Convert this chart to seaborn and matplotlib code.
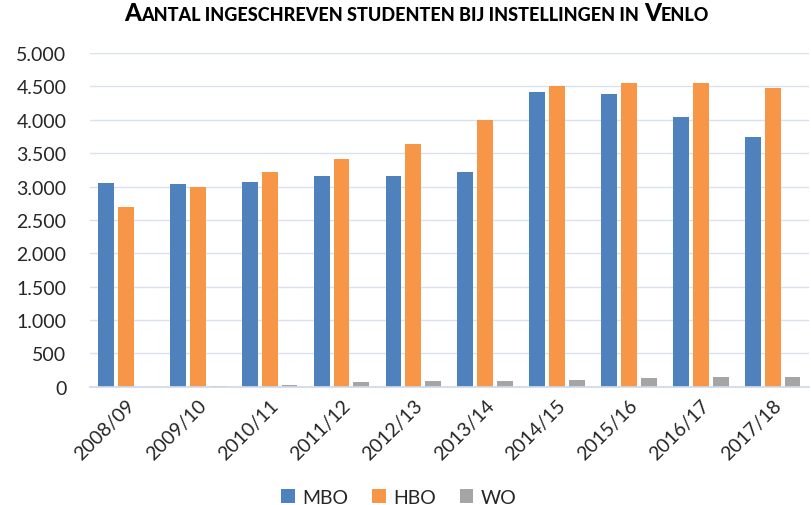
import matplotlib
matplotlib.use("Agg")
import matplotlib.pyplot as plt
from matplotlib.ticker import FuncFormatter, MultipleLocator
import pandas as pd
import seaborn as sns

years = ["2008/09", "2009/10", "2010/11", "2011/12", "2012/13",
         "2013/14", "2014/15", "2015/16", "2016/17", "2017/18"]
mbo = [3050, 3040, 3065, 3165, 3165, 3215, 4410, 4385, 4035, 3750]
hbo = [2690, 2995, 3225, 3415, 3635, 4000, 4505, 4545, 4555, 4480]
wo = [0, 15, 25, 65, 80, 80, 100, 125, 140, 150]
series = ["MBO", "HBO", "WO"]
colors = ["#4F81BD", "#F79646", "#A5A5A5"]

df = pd.DataFrame({"jaar": years * 3,
                   "type": [s for s in series for _ in years],
                   "aantal": mbo + hbo + wo})

sns.set_theme(style="white")
plt.rcParams["font.family"] = ["Lato", "DejaVu Sans"]

fig = plt.figure(figsize=(8.11, 5.06), dpi=100)
ax = fig.add_axes([0.111, 0.234, 0.886, 0.659])

sns.barplot(data=df, x="jaar", y="aantal", hue="type", palette=colors,
            width=0.83, gap=0.2, ax=ax, saturation=1, edgecolor="none")

ax.set_ylim(0, 5000)
ax.set_xlim(-0.5, len(years) - 0.5)
ax.yaxis.set_major_locator(MultipleLocator(500))
ax.yaxis.set_major_formatter(FuncFormatter(lambda v, p: f"{int(v):,}".replace(",", ".")))
ax.grid(axis="y", color="#D9E1F0", linewidth=1)
ax.set_axisbelow(True)
for s in ["top", "right", "left"]:
    ax.spines[s].set_visible(False)
ax.spines["bottom"].set_color("#D0DAEA")
ax.set_xlabel("")
ax.set_ylabel("")
ax.tick_params(axis="y", labelsize=14, colors="#262626", length=0, pad=17)
ax.tick_params(axis="x", labelsize=14, colors="#262626", length=0, pad=7)
plt.setp(ax.get_xticklabels(), rotation=45, ha="right", rotation_mode="anchor")

ax.legend(loc="lower center", bbox_to_anchor=(0.43, -0.41), ncol=3, frameon=False,
          fontsize=14, handlelength=0.7, handleheight=0.7, handletextpad=0.4,
          columnspacing=1.2, labelcolor="#262626")

# small-caps title built from pieces
pieces = [("A", 17.5), ("ANTAL INGESCHREVEN STUDENTEN BIJ INSTELLINGEN IN ", 13.0),
          ("V", 17.5), ("ENLO", 13.0)]
renderer = fig.canvas.get_renderer()
texts = []
total = 0
for txt, size in pieces:
    t = fig.text(0, 0.958, txt, fontsize=size, fontweight=900, color="black",
                 va="baseline", ha="left")
    w = t.get_window_extent(renderer).width / fig.bbox.width
    texts.append((t, w))
    total += w
x = 0.514 - total / 2
for t, w in texts:
    t.set_x(x)
    x += w

fig.savefig("out.png", dpi=100)
